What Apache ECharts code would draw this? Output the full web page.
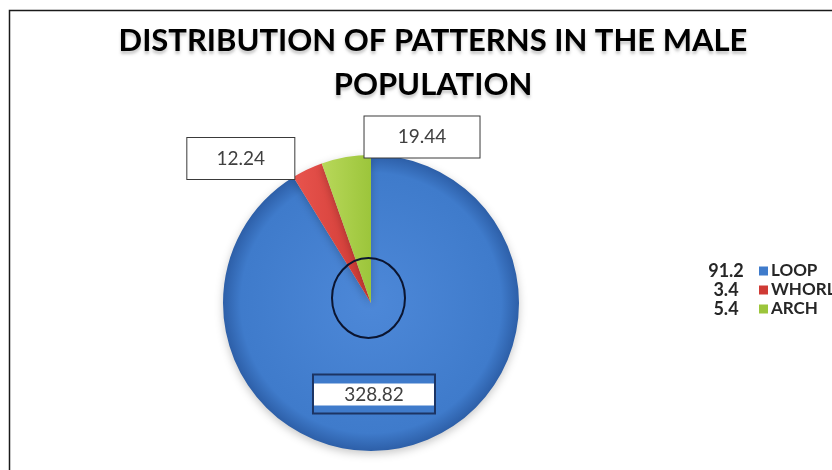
<!DOCTYPE html>
<html>
<head>
<meta charset="utf-8">
<title>Distribution of patterns in the male population</title>
<script src="https://cdn.jsdelivr.net/npm/echarts@6/dist/echarts.min.js"></script>
<style>
  html, body { margin: 0; padding: 0; background: #fff; }
  #chart { width: 832px; height: 470px; }
</style>
</head>
<body>
<div id="chart"></div>
<script>
// Fingerprint pattern shares (slice sizes are given in degrees of the pie)
const categories = ['LOOP', 'WHORL', 'ARCH'];
const degrees = [328.82, 12.24, 19.44];
const percents = [91.2, 3.4, 5.4];

// Styling kept apart from the values
const sliceColors = [
  ['#4d88d8', '#3f7bcb', '#2d5fa8'],
  ['#e8544d', '#cf3a35'],
  ['#b8d85a', '#9cc53b']
];
const legendColors = ['#3f7bcb', '#cf3a35', '#9cc53b'];
const labelOffsets = [[-18, 17], [-97, -75], [64, -90]];
const labelWidths = [120, 107, 115];

const chart = echarts.init(document.getElementById('chart'), null, { renderer: 'canvas' });

function sliceFill(i) {
  const c = sliceColors[i];
  if (i === 0) {
    return {
      type: 'radial', x: 0.5, y: 0.5, r: 0.5,
      colorStops: [
        { offset: 0, color: c[0] },
        { offset: 0.88, color: c[1] },
        { offset: 1, color: c[2] }
      ]
    };
  }
  return {
    type: 'linear', x: 0, y: 0, x2: 1, y2: 0,
    colorStops: [
      { offset: 0, color: c[0] },
      { offset: 1, color: c[1] }
    ]
  };
}

const pieData = categories.map((name, i) => {
  const item = {
    name: name,
    value: degrees[i],
    itemStyle: { color: sliceFill(i) }
  };
  if (i === 0) {
    item.label = {
      formatter: p => '{w|' + p.value + '}',
      backgroundColor: '#3f7bcb',
      borderColor: '#1c3463',
      borderWidth: 2,
      padding: [8, 0, 7, 0],
      rich: {
        w: {
          backgroundColor: '#ffffff',
          width: labelWidths[i],
          height: 22,
          lineHeight: 22,
          align: 'center',
          fontFamily: 'Lato, "Open Sans", sans-serif',
          fontSize: 19,
          color: '#404040'
        }
      }
    };
  } else {
    item.label = {
      formatter: p => String(p.value),
      backgroundColor: '#ffffff',
      borderColor: '#3a3a3a',
      borderWidth: 1,
      width: labelWidths[i],
      align: 'center',
      lineHeight: 18,
      padding: [11, 0, 12, 0]
    };
  }
  return item;
});

const option = {
  animation: false,
  backgroundColor: '#ffffff',
  title: {
    text: 'DISTRIBUTION OF PATTERNS IN THE MALE\nPOPULATION',
    left: 428,
    top: 14,
    textAlign: 'center',
    textStyle: {
      fontFamily: 'Lato, "Open Sans", sans-serif',
      fontWeight: 'bold',
      fontSize: 31,
      lineHeight: 44,
      color: '#000000',
      textShadowColor: 'rgba(0,0,0,0.22)',
      textShadowBlur: 3,
      textShadowOffsetY: 3
    }
  },
  legend: {
    orient: 'vertical',
    left: 695,
    top: 257,
    icon: 'none',
    itemWidth: 0,
    itemHeight: 0,
    itemGap: 1,
    selectedMode: false,
    data: categories,
    formatter: name => {
      const i = categories.indexOf(name);
      return '{v|' + percents[i] + '}{sq' + i + '|}{n|' + name + '}';
    },
    textStyle: {
      rich: {
        v: {
          width: 42, align: 'right', padding: [0, 12, 0, 0],
          fontFamily: 'Lato, "Open Sans", sans-serif', fontWeight: 'bold',
          fontSize: 18, lineHeight: 21, color: '#262626'
        },
        sq0: { width: 9, height: 9, backgroundColor: legendColors[0] },
        sq1: { width: 9, height: 9, backgroundColor: legendColors[1] },
        sq2: { width: 9, height: 9, backgroundColor: legendColors[2] },
        n: {
          padding: [0, 0, 0, 3],
          fontFamily: 'Lato, "Open Sans", sans-serif', fontWeight: 'bold',
          fontSize: 17, lineHeight: 21, color: '#262626'
        }
      }
    }
  },
  graphic: [
    {
      // chart frame
      type: 'rect', silent: true, z: 0,
      shape: { x: 9.5, y: 10.5, width: 900, height: 600 },
      style: { fill: 'none', stroke: '#1a1a1a', lineWidth: 1.5 }
    },
    {
      // hand-drawn highlight ring near the pie centre
      type: 'ellipse', silent: true, z: 100,
      shape: { cx: 368.5, cy: 298, rx: 36.5, ry: 40 },
      style: { fill: 'none', stroke: '#0b1530', lineWidth: 2 }
    }
  ],
  series: [{
    type: 'pie',
    center: [371, 303],
    radius: [0, 148],
    startAngle: 90,
    clockwise: true,
    avoidLabelOverlap: false,
    emphasis: { disabled: true },
    itemStyle: {
      borderWidth: 0,
      shadowBlur: 8,
      shadowColor: 'rgba(0,0,0,0.22)',
      shadowOffsetY: 3
    },
    label: {
      show: true,
      position: 'inside',
      fontFamily: 'Lato, "Open Sans", sans-serif',
      fontSize: 19,
      color: '#404040'
    },
    labelLine: { show: false },
    labelLayout: params => ({
      dx: labelOffsets[params.dataIndex][0],
      dy: labelOffsets[params.dataIndex][1]
    }),
    data: pieData
  }]
};

chart.setOption(option);
</script>
</body>
</html>
